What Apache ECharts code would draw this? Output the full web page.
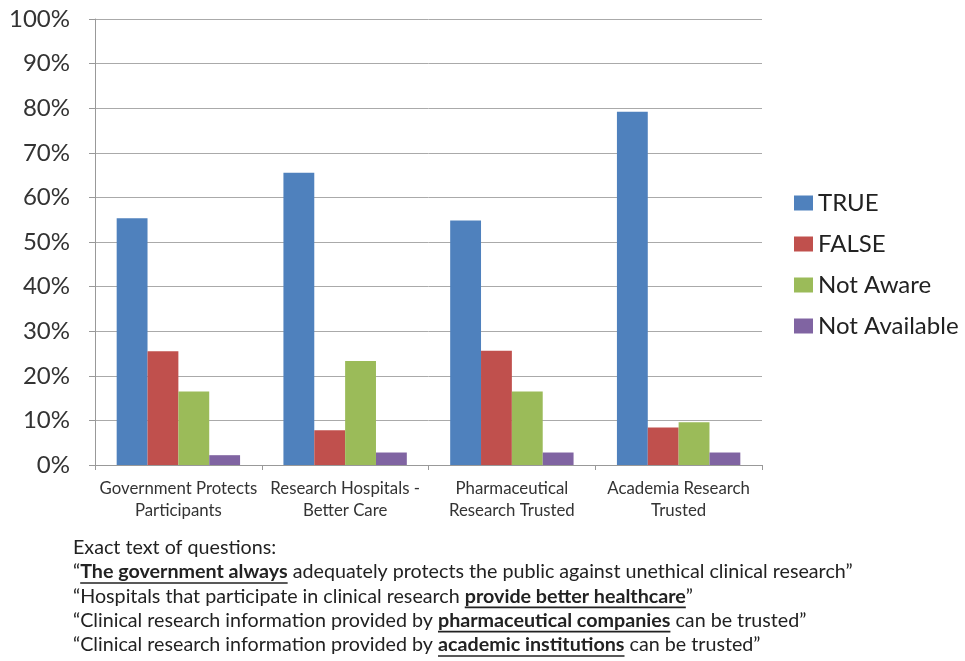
<!DOCTYPE html>
<html><head><meta charset="utf-8">
<script src="https://cdn.jsdelivr.net/npm/echarts@6/dist/echarts.min.js"></script>
<style>html,body{margin:0;padding:0;background:#fff;}#c{width:965px;height:661px;}</style>
</head><body><div id="c"></div>
<script>
const categories = ['Government Protects\nParticipants', 'Research Hospitals -\nBetter Care', 'Pharmaceutical\nResearch Trusted', 'Academia Research\nTrusted'];
const seriesNames = ['TRUE', 'FALSE', 'Not Aware', 'Not Available'];
const trueVals = [0.553, 0.655, 0.548, 0.792];
const falseVals = [0.255, 0.078, 0.256, 0.084];
const notAwareVals = [0.165, 0.233, 0.165, 0.096];
const notAvailableVals = [0.022, 0.028, 0.028, 0.028];
const captionTitle = 'Exact text of questions:';
const captionLines = [
  [['\u201C', 0], ['The government always', 1], [' adequately protects the public against unethical clinical research\u201D', 0]],
  [['\u201CHospitals that participate in clinical research ', 0], ['provide better healthcare', 1], ['\u201D', 0]],
  [['\u201CClinical research information provided by ', 0], ['pharmaceutical companies', 1], [' can be trusted\u201D', 0]],
  [['\u201CClinical research information provided by ', 0], ['academic institutions', 1], [' can be trusted\u201D', 0]]
];
const colors = ['#4F81BD', '#C0504D', '#9BBB59', '#8064A2'];
const FONT = 'Lato, "Open Sans", sans-serif';

const chart = echarts.init(document.getElementById('c'));

// caption graphics (text, with underlines measured by canvas)
const cv = document.createElement('canvas').getContext('2d');
function lineWidth(line, size) {
  let w = 0;
  line.forEach(function (seg) {
    cv.font = (seg[1] ? 'bold ' : '') + size + 'px ' + FONT;
    w += cv.measureText(seg[0]).width;
  });
  return w;
}
const capX = 73;
const capTarget = 779;
const capSize = Math.round(16 * capTarget / lineWidth(captionLines[0], 16) * 10) / 10;
const graphics = [];
graphics.push({type: 'text', x: capX, y: 548, style: {text: captionTitle, font: capSize + 'px ' + FONT, fill: '#222', verticalAlign: 'middle'}});
captionLines.forEach(function (line, i) {
  let x = capX;
  const y = 572 + i * 24.3;
  line.forEach(function (seg) {
    const f = (seg[1] ? 'bold ' : '') + capSize + 'px ' + FONT;
    cv.font = f;
    const w = cv.measureText(seg[0]).width;
    graphics.push({type: 'text', x: x, y: y, style: {text: seg[0], font: f, fill: '#222', verticalAlign: 'middle'}});
    if (seg[1]) {
      graphics.push({type: 'rect', shape: {x: x, y: y + capSize * 0.52, width: w, height: 1.6}, style: {fill: '#222'}});
    }
    x += w;
  });
});

const dataSets = [trueVals, falseVals, notAwareVals, notAvailableVals];
chart.setOption({
  animation: false,
  backgroundColor: '#fff',
  color: colors,
  grid: {left: 95, right: 203, top: 19, bottom: 196, containLabel: false},
  legend: {
    orient: 'vertical', left: 789, top: 186, itemWidth: 19, itemHeight: 15, itemGap: 17,
    icon: 'rect', data: seriesNames,
    textStyle: {fontFamily: FONT, fontSize: 24, color: '#222'}
  },
  xAxis: {
    type: 'category', data: categories,
    axisLine: {lineStyle: {color: '#999', width: 1}},
    axisTick: {show: true, length: 5, lineStyle: {color: '#999'}},
    axisLabel: {fontFamily: FONT, fontSize: 16.8, color: '#333', lineHeight: 22, margin: 13, interval: 0}
  },
  yAxis: {
    type: 'value', min: 0, max: 1, interval: 0.1,
    axisLine: {show: true, lineStyle: {color: '#999'}},
    axisTick: {show: true, length: 6, lineStyle: {color: '#999'}},
    splitLine: {lineStyle: {color: '#aaaaaa', width: 1}},
    axisLabel: {
      fontFamily: FONT, fontSize: 24, color: '#333', margin: 25,
      formatter: function (v) { return Math.round(v * 100) + '%'; }
    }
  },
  series: seriesNames.map(function (n, i) {
    return {name: n, type: 'bar', data: dataSets[i], barGap: '0%', barCategoryGap: '26%'};
  }),
  graphic: graphics
});
</script></body></html>
